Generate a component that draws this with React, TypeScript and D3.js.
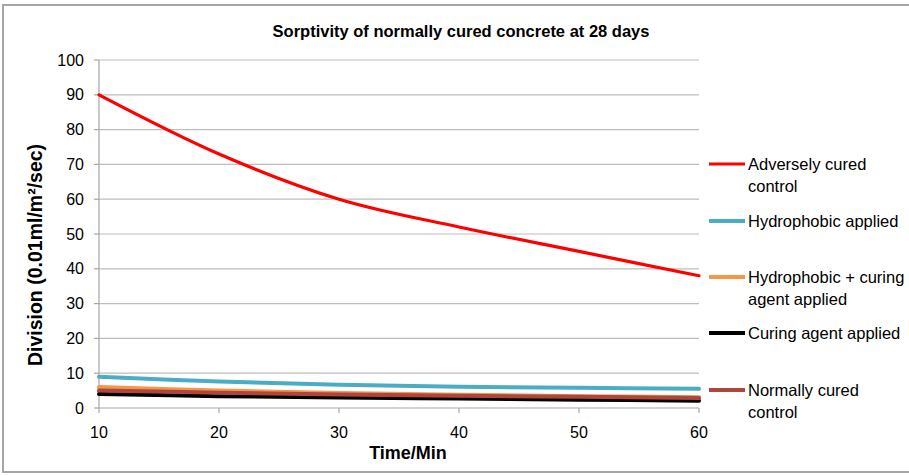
import React from "react";
import * as d3 from "d3";

const times = [10, 20, 30, 40, 50, 60];
const adverselyCured = [90, 73, 60, 52, 45, 38];
const hydrophobic = [9.0, 7.6, 6.7, 6.1, 5.8, 5.5];
const hydroCuring = [6.0, 5.0, 4.3, 3.8, 3.4, 3.1];
const curingAgent = [4.0, 3.4, 3.0, 2.7, 2.4, 2.1];
const normallyCured = [5.0, 4.4, 3.9, 3.5, 3.2, 2.9];
const yTicks = [0, 10, 20, 30, 40, 50, 60, 70, 80, 90, 100];
const xTicks = [10, 20, 30, 40, 50, 60];

const seriesNames = [
  "Adversely cured control",
  "Hydrophobic applied",
  "Hydrophobic + curing agent applied",
  "Curing agent applied",
  "Normally cured control",
];
const legendLines = [
  ["Adversely cured", "control"],
  ["Hydrophobic applied"],
  ["Hydrophobic + curing", "agent applied"],
  ["Curing agent applied"],
  ["Normally cured", "control"],
];
const seriesValues = [adverselyCured, hydrophobic, hydroCuring, curingAgent, normallyCured];
const colors = ["#FF0000", "#4BACC6", "#F79646", "#000000", "#B0443F"];

const W = 909;
const H = 476;
const left = 99;
const right = 699;
const top = 60;
const bottom = 408;
const font = "'Liberation Sans', Arial, sans-serif";

export default function App() {
  const x = d3.scaleLinear().domain([10, 60]).range([left, right]);
  const y = d3.scaleLinear().domain([0, 100]).range([bottom, top]);
  const line = d3
    .line<number>()
    .x((_, i) => x(times[i]))
    .y((d) => y(d))
    .curve(d3.curveCatmullRom.alpha(0.5));

  const legendY = [164, 221, 277, 333, 390];

  return (
    <svg
      width={W}
      height={H}
      style={{ position: "absolute", left: 0, top: 0, background: "#fff" }}
      fontFamily={font}
    >
      <rect x={0} y={0} width={W} height={H} fill="#fff" />
      <rect x={3} y={5} width={W + 10} height={467} fill="none" stroke="#A6A6A6" strokeWidth={2} />
      <text x={461} y={37} textAnchor="middle" fontSize={16.5} fontWeight="bold" fill="#000">
        Sorptivity of normally cured concrete at 28 days
      </text>
      {yTicks.map((t) => (
        <g key={"y" + t}>
          {t > 0 && (
            <line x1={left} x2={right} y1={y(t)} y2={y(t)} stroke="#BDBDBD" strokeWidth={1.2} />
          )}
          <line x1={left - 5} x2={left} y1={y(t)} y2={y(t)} stroke="#A6A6A6" strokeWidth={1.2} />
          <text x={84} y={y(t)} dy="0.35em" textAnchor="end" fontSize={16} fill="#000">
            {t}
          </text>
        </g>
      ))}
      <line x1={left} x2={left} y1={top} y2={bottom} stroke="#A6A6A6" strokeWidth={1.2} />
      <line x1={left} x2={right} y1={bottom} y2={bottom} stroke="#A6A6A6" strokeWidth={1.2} />
      {xTicks.map((t) => (
        <g key={"x" + t}>
          <line x1={x(t)} x2={x(t)} y1={bottom} y2={bottom + 5} stroke="#A6A6A6" strokeWidth={1.2} />
          <text x={x(t)} y={432} dy="0.35em" textAnchor="middle" fontSize={16} fill="#000">
            {t}
          </text>
        </g>
      ))}
      <text x={408} y={459} textAnchor="middle" fontSize={18} fontWeight="bold" fill="#000">
        Time/Min
      </text>
      <text
        transform={`translate(42,255) rotate(-90)`}
        textAnchor="middle"
        fontSize={19.5}
        fontWeight="bold"
        fill="#000"
      >
        Division (0.01ml/m²/sec)
      </text>
      {seriesValues.map((vals, i) => (
        <path
          key={seriesNames[i]}
          d={line(vals) || ""}
          fill="none"
          stroke={colors[i]}
          strokeWidth={i === 0 ? 3.2 : 4}
          strokeLinecap="round"
          strokeLinejoin="round"
        />
      ))}
      {legendLines.map((lines, i) => (
        <g key={"lg" + i}>
          <line x1={709} x2={745} y1={legendY[i]} y2={legendY[i]} stroke={colors[i]} strokeWidth={i === 0 ? 3.2 : 4} />
          {lines.map((s, j) => (
            <text key={j} x={748} y={legendY[i] + j * 22.5} dy="0.35em" fontSize={16.5} fill="#000">
              {s}
            </text>
          ))}
        </g>
      ))}
    </svg>
  );
}
